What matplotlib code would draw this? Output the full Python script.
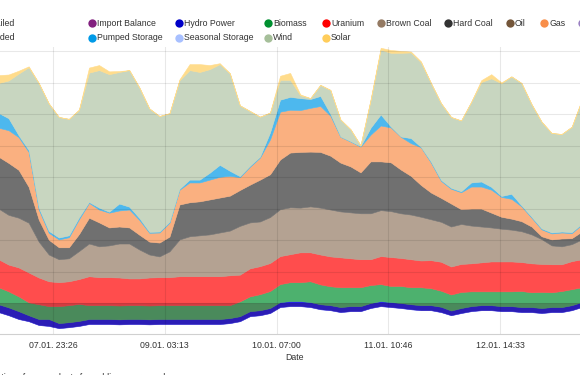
import numpy as np
import pandas as pd
import matplotlib
matplotlib.use("Agg")
import matplotlib.pyplot as plt
import matplotlib.colors as mcolors

plt.rcParams['font.family'] = ['Liberation Sans', 'DejaVu Sans']

# one value every 2.5 hours, GW
times = pd.date_range("2023-01-07 10:00", periods=59, freq="150min")

# bottom of the stacked areas (the stack starts below zero)
stack_floor = [-3.0, -4.0, -5.2, -5.9, -7.1, -7.4, -8.1, -7.8, -7.4, -6.8,
               -6.8, -6.8, -6.9, -6.8, -6.8, -6.9, -6.8, -6.8, -6.8, -6.8,
               -6.8, -6.8, -6.8, -6.5, -5.9, -4.3, -4.0, -3.3, -1.4, -1.1,
               -1.1, -1.4, -2.1, -2.4, -3.0, -2.7, -2.7, -1.7, -1.1, -1.4,
               -1.7, -2.1, -2.4, -2.4, -3.0, -4.0, -3.3, -2.7, -2.4, -2.4,
               -2.7, -2.7, -3.0, -3.0, -3.3, -3.0, -3.0, -2.4, -1.4]

hydro = [2.5, 2.5, 2.5, 1.9, 1.9, 2.2, 1.6, 1.6, 1.6, 1.6,
         1.6, 1.6, 1.6, 1.6, 1.6, 1.6, 1.6, 1.6, 1.6, 1.6,
         1.6, 1.6, 1.6, 1.6, 1.6, 1.6, 1.6, 1.6, 1.6, 1.6,
         1.6, 1.6, 1.6, 1.6, 1.6, 1.6, 1.6, 1.6, 1.6, 1.6,
         1.6, 1.6, 1.6, 1.6, 1.7, 1.5, 1.6, 1.6, 1.6, 1.6,
         1.6, 1.6, 1.6, 1.6, 1.6, 1.6, 1.6, 1.6, 1.6]

biomass = [5.4, 5.1, 4.7, 4.1, 4.7, 4.1, 5.4, 5.4, 5.4, 4.4,
           4.4, 4.4, 4.4, 4.4, 4.4, 4.4, 4.4, 4.4, 4.4, 4.4,
           4.4, 4.4, 4.4, 4.1, 4.7, 4.7, 5.1, 5.4, 5.7, 6.0,
           6.0, 6.6, 6.3, 6.0, 6.3, 6.0, 6.0, 5.7, 5.4, 5.1,
           5.4, 5.4, 5.7, 5.4, 5.1, 5.1, 5.1, 4.7, 4.4, 4.4,
           4.7, 4.7, 5.1, 4.7, 5.1, 4.7, 5.1, 5.1, 4.7]

uranium = [8.9, 8.5, 9.2, 9.5, 8.5, 7.9, 7.6, 7.6, 7.9, 9.2,
           8.9, 8.9, 8.9, 8.5, 8.5, 8.9, 8.9, 8.9, 9.2, 9.2,
           9.2, 9.2, 9.2, 9.5, 8.5, 8.9, 8.9, 8.9, 8.9, 8.9,
           9.5, 9.2, 9.5, 9.5, 9.5, 9.2, 8.9, 8.2, 8.9, 9.2,
           8.9, 8.9, 8.5, 8.9, 9.2, 8.9, 8.9, 8.9, 9.2, 9.5,
           9.5, 9.5, 9.2, 9.2, 8.9, 8.9, 8.5, 8.9, 8.9]

brown_coal = [16.1, 15.8, 15.8, 15.8, 11.4, 8.5, 7.3, 7.3, 8.9, 10.4,
              9.8, 10.1, 10.8, 11.1, 9.2, 7.3, 6.6, 8.2, 11.7, 12.7,
              13.0, 13.3, 13.9, 14.2, 15.5, 14.6, 14.2, 14.6, 14.9, 14.9,
              14.2, 14.6, 14.9, 14.9, 14.6, 14.6, 14.6, 14.6, 14.6, 14.6,
              14.2, 14.2, 13.9, 13.0, 12.7, 12.7, 12.7, 12.0, 11.4, 10.8,
              10.4, 10.1, 9.8, 9.2, 7.9, 6.0, 5.7, 5.4, 6.3]

hard_coal = [16.5, 16.5, 15.2, 11.4, 7.0, 4.7, 3.8, 3.5, 5.4, 8.2,
             7.6, 5.7, 5.4, 5.1, 4.7, 4.1, 4.4, 4.7, 11.1, 10.8,
             10.8, 11.1, 11.1, 11.1, 11.4, 12.0, 13.3, 13.6, 15.8, 17.4,
             17.7, 17.4, 17.7, 17.1, 15.5, 14.6, 13.0, 16.5, 15.5, 15.5,
             13.9, 12.3, 10.1, 8.5, 7.6, 7.3, 4.7, 5.4, 5.7, 4.7,
             3.8, 3.5, 3.2, 2.5, 0.9, 1.9, 2.5, 1.9, 2.5]

gas = [9.2, 10.4, 10.4, 11.1, 3.2, 2.2, 2.5, 3.2, 4.7, 4.7,
       4.1, 4.7, 5.1, 5.7, 4.7, 2.8, 3.2, 4.4, 4.7, 6.3,
       6.0, 6.3, 6.6, 6.3, 4.1, 5.7, 7.0, 11.1, 15.2, 13.6,
       13.3, 13.9, 14.6, 12.7, 8.2, 7.9, 8.2, 8.5, 11.4, 11.1,
       10.4, 10.4, 12.0, 9.5, 5.4, 4.7, 5.4, 7.0, 7.0, 7.3,
       6.3, 6.3, 4.7, 2.8, 2.2, 1.9, 1.9, 1.6, 2.2]

pumped_storage = [4.7, 3.8, 0.6, 0.6, 0.6, 0.6, 0.6, 0.6, 0.6, 0.3,
                  0.6, 0.3, 2.2, 0.9, 0.6, 0.3, 0.3, 0.3, 0.3, 0.9,
                  0.9, 2.2, 3.8, 1.6, 0.3, 0.3, 0.3, 2.2, 3.8, 4.1,
                  3.8, 2.8, 3.2, 0.6, 0.1, 0.1, 0.1, 2.2, 3.5, 0.3,
                  0.1, 1.6, 0.1, 0.3, 0.3, 0.3, 0.3, 1.3, 1.6, 0.9,
                  0.3, 1.6, 0.3, 0.3, 0.3, 0.3, 0.3, 0.3, 0.3]

wind = [9.5, 12.0, 19.6, 26.3, 39.6, 40.5, 38.3, 37.0, 34.2, 41.1,
        43.7, 43.7, 41.8, 43.4, 41.5, 39.2, 36.7, 34.5, 34.5, 34.8,
        34.2, 32.9, 32.0, 31.0, 22.5, 17.4, 12.7, 6.3, 6.3, 5.4,
        0.9, 0.3, 3.5, 7.6, 5.4, 3.8, 0.3, 8.9, 20.6, 23.4,
        26.6, 27.2, 26.9, 25.0, 24.4, 22.5, 22.5, 25.6, 31.6, 34.5,
        35.8, 37.3, 38.9, 35.8, 33.9, 31.6, 31.0, 33.5, 39.2]

solar = [2.5, 1.9, 0.9, 0.3, 0, 0, 0, 0, 0, 1.6,
         1.6, 0.9, 0.3, 0, 0, 0, 0, 0, 0.3, 1.9,
         2.5, 1.3, 0.3, 0, 0, 0, 0, 0, 1.3, 2.2,
         0.3, 0, 0, 0, 0, 0, 0, 0, 0.6, 0.9,
         0.6, 0.3, 0.3, 0, 0, 0, 0, 0, 0.6, 1.3,
         0.3, 0, 0, 0, 0, 0, 0, 0, 0.3]

tick_times = pd.to_datetime(["2023-01-07 23:26", "2023-01-09 03:13", "2023-01-10 07:00",
                             "2023-01-11 10:46", "2023-01-12 14:33"])
tick_labels = ["07.01. 23:26", "09.01. 03:13", "10.01. 07:00", "11.01. 10:46", "12.01. 14:33"]

# legend, two rows, columns aligned like the original
legend_row1 = ["Curtailed", "Import Balance", "Hydro Power", "Biomass", "Uranium",
               "Brown Coal", "Hard Coal", "Oil", "Gas", "Others"]
legend_row1_colors = ["#7f7f7f", "#82207f", "#0000c8", "#009030", "#ff0000",
                      "#947a63", "#333333", "#74563a", "#f88e4a", "#9a80c2"]
legend_row2 = ["Traded", "Pumped Storage", "Seasonal Storage", "Wind", "Solar"]
legend_row2_colors = ["#7f7f7f", "#009ae7", "#a8c0ff", "#a6bf9a", "#ffcd5b"]

# name, values, colour, fill opacity
stack = [("Hydro Power", hydro, "#0000dd", 0.85),
         ("Biomass", biomass, "#009030", 0.7),
         ("Uranium", uranium, "#ff0000", 0.7),
         ("Brown Coal", brown_coal, "#947a63", 0.7),
         ("Hard Coal", hard_coal, "#333333", 0.7),
         ("Gas", gas, "#f88e4a", 0.7),
         ("Pumped Storage", pumped_storage, "#009ae7", 0.7),
         ("Wind", wind, "#b0c4a5", 0.7),
         ("Solar", solar, "#ffcd5b", 0.7)]


def faded(color, alpha=0.7):
    # fill colour as it looks with opacity over white
    rgb = np.array(mcolors.to_rgb(color))
    return tuple(alpha * rgb + (1 - alpha))


W, H = 580, 375
fig = plt.figure(figsize=(W / 100, H / 100), dpi=100)
ax = fig.add_axes([0, 1 - 334 / H, 1, (334 - 47) / H])

lower = np.array(stack_floor, dtype=float)
for name, vals, col, op in stack:
    upper = lower + np.array(vals, dtype=float)
    ax.fill_between(times, lower, upper, color=faded(col, op), linewidth=0.4,
                    edgecolor=faded(col, op), zorder=2)
    lower = upper

# part of the stack below zero is shaded darker
ax.fill_between(times, stack_floor, 0, color="#40001a", alpha=0.22, linewidth=0, zorder=3)

ax.set_xlim(pd.Timestamp("2023-01-07 10:15"), pd.Timestamp("2023-01-13 10:26"))
ax.set_ylim(-9.8, 81.4)

for yv in np.arange(-10, 81, 10):
    ax.axhline(yv, color="k", alpha=0.09, lw=0.8, zorder=4)
for tv in tick_times:
    ax.axvline(tv, color="k", alpha=0.09, lw=0.8, zorder=4)

ax.set_xticks(tick_times)
ax.set_xticklabels(tick_labels, fontsize=6.3, color="#333333")
ax.tick_params(axis="x", length=0, pad=5)
ax.set_yticks([])
for s in ["top", "left", "right"]:
    ax.spines[s].set_visible(False)
ax.spines["bottom"].set_color("#d0d0d0")
ax.spines["bottom"].set_linewidth(0.8)

fig.text(295 / W, 1 - 358 / H, "Date", fontsize=6.3, color="#333333", ha="center", va="center")
fig.text(170 / W, 1 - 372.5 / H, "Net generation of power plants for public power supply",
         fontsize=6.3, color="#333333", ha="right", va="top")

# legend drawn on an overlay in pixel units
lg = fig.add_axes([0, 0, 1, 1])
lg.set_xlim(0, W)
lg.set_ylim(H, 0)
lg.axis("off")
lg.patch.set_alpha(0)
cols_x = [9, 92, 179, 268, 326, 381, 448, 510, 544, 582]
for row_y, labels, colors in [(23, legend_row1, legend_row1_colors),
                              (38, legend_row2, legend_row2_colors)]:
    for i, (lab, c) in enumerate(zip(labels, colors)):
        if i == 0:
            lg.text(15, row_y, lab, fontsize=6.3, color="#333333", ha="right", va="center")
            continue
        lg.plot(cols_x[i], row_y, "o", ms=6, color=c, mec="none")
        lg.text(cols_x[i] + 5, row_y, lab, fontsize=6.3, color="#333333", ha="left", va="center")

fig.savefig("out.png", dpi=100)
